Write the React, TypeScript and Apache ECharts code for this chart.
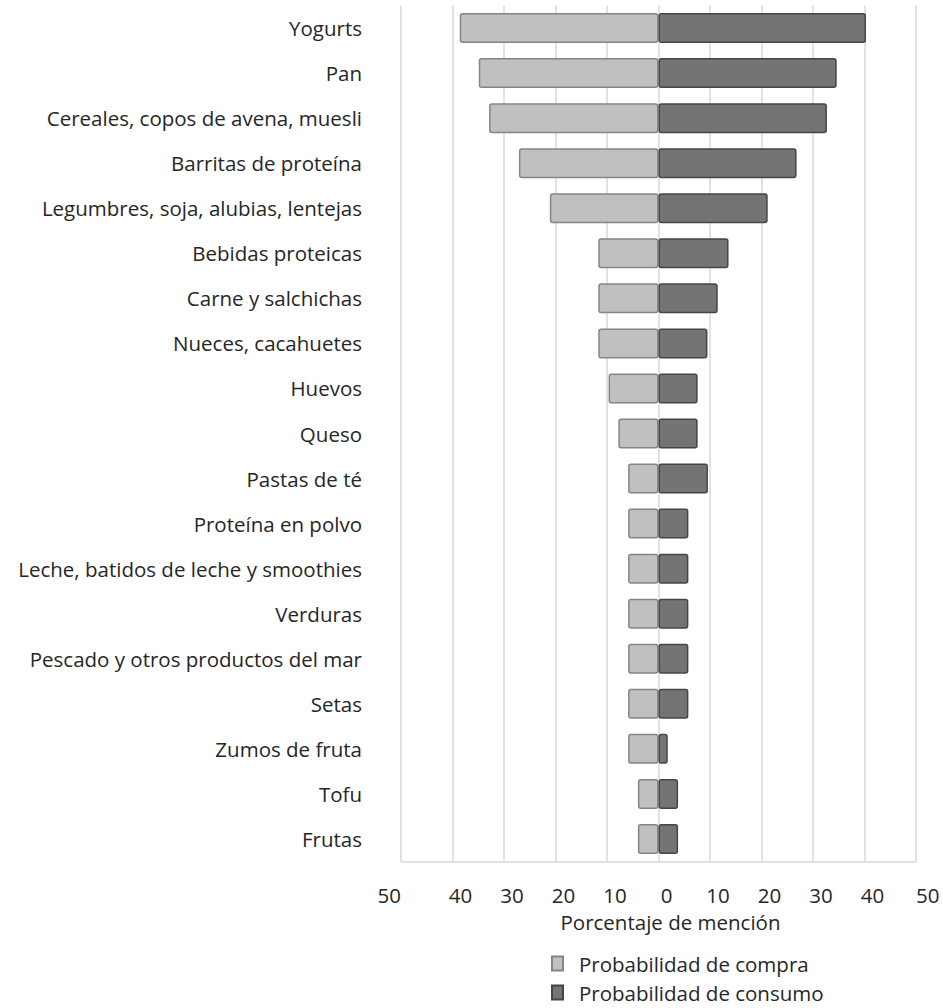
import React, { useEffect, useRef } from "react";
import * as echarts from "echarts";

// Food categories, top to bottom
const categories = [
  "Yogurts",
  "Pan",
  "Cereales, copos de avena, muesli",
  "Barritas de proteína",
  "Legumbres, soja, alubias, lentejas",
  "Bebidas proteicas",
  "Carne y salchichas",
  "Nueces, cacahuetes",
  "Huevos",
  "Queso",
  "Pastas de té",
  "Proteína en polvo",
  "Leche, batidos de leche y smoothies",
  "Verduras",
  "Pescado y otros productos del mar",
  "Setas",
  "Zumos de fruta",
  "Tofu",
  "Frutas",
];

// Percentage of mentions (drawn to the left of zero)
const compra = [38.6, 34.9, 32.9, 27.1, 21.1, 11.7, 11.7, 11.7, 9.7, 7.8, 5.9, 5.9, 5.9, 5.9, 5.9, 5.9, 5.9, 4.0, 4.0];
// Percentage of mentions (drawn to the right of zero)
const consumo = [40.3, 34.6, 32.7, 26.8, 21.2, 13.6, 11.5, 9.5, 7.6, 7.6, 9.6, 5.8, 5.8, 5.8, 5.8, 5.8, 1.8, 3.8, 3.8];

const axisMin = -50;
const axisMax = 50;
const axisStep = 10;

const FONT = "'Open Sans', 'Noto Sans', sans-serif";
const TEXT = "#262626";
const FS = 20.5;

export default function App() {
  const ref = useRef<HTMLDivElement>(null);

  useEffect(() => {
    if (!ref.current) return;
    const chart = echarts.init(ref.current, undefined, { renderer: "svg" });
    const tickText = { fontFamily: FONT, fontSize: FS, color: TEXT };
    chart.setOption({
      animation: false,
      backgroundColor: "#ffffff",
      textStyle: { fontFamily: FONT },
      grid: { left: 401, right: 27, top: 5.5, bottom: 146.5, containLabel: false },
      legend: {
        orient: "vertical",
        left: 551,
        top: 951,
        padding: 0,
        itemWidth: 11,
        itemHeight: 14,
        itemGap: 4,
        icon: "rect",
        textStyle: { fontFamily: FONT, fontSize: FS, color: TEXT, lineHeight: 25, padding: [0, 0, 0, 11] },
        data: ["Probabilidad de compra", "Probabilidad de consumo"],
      },
      xAxis: {
        type: "value",
        min: axisMin,
        max: axisMax,
        interval: axisStep,
        name: "Porcentaje de mención",
        nameLocation: "middle",
        nameGap: 50,
        nameTextStyle: { fontFamily: FONT, fontSize: FS, color: TEXT, padding: [0, 0, 0, 24] },
        axisLine: { show: true, lineStyle: { color: "#d9d9d9", width: 1.5 } },
        axisTick: { show: false },
        splitLine: { show: true, lineStyle: { color: "#d9d9d9", width: 1.5 } },
        axisLabel: {
          margin: 23,
          ...tickText,
          alignMinLabel: "right",
          alignMaxLabel: "left",
          formatter: (v: number) =>
            v === axisMin || v === axisMax ? `{e|${Math.abs(v)}}` : `{m|${Math.abs(v)}}`,
          rich: {
            e: { ...tickText },
            m: { ...tickText, padding: [0, 0, 0, 16] },
          },
        },
      },
      yAxis: {
        type: "category",
        data: categories,
        inverse: true,
        axisLine: { show: false },
        axisTick: { show: false },
        splitLine: { show: false },
        axisLabel: { margin: 39, fontFamily: FONT, fontSize: FS, color: TEXT },
      },
      series: [
        {
          name: "Probabilidad de compra",
          type: "bar",
          stack: "total",
          barWidth: 30,
          data: compra.map((v) => -v),
          itemStyle: { color: "#c0c0c0", borderColor: "#858585", borderWidth: 1.5, borderRadius: 2 },
        },
        {
          name: "Probabilidad de consumo",
          type: "bar",
          stack: "total",
          barWidth: 30,
          data: consumo,
          itemStyle: { color: "#747474", borderColor: "#454545", borderWidth: 1.5, borderRadius: 2 },
        },
      ],
    });
    return () => chart.dispose();
  }, []);

  return (
    <div
      ref={ref}
      style={{ position: "absolute", left: 0, top: 0, width: 943, height: 1008, background: "#fff" }}
    />
  );
}
